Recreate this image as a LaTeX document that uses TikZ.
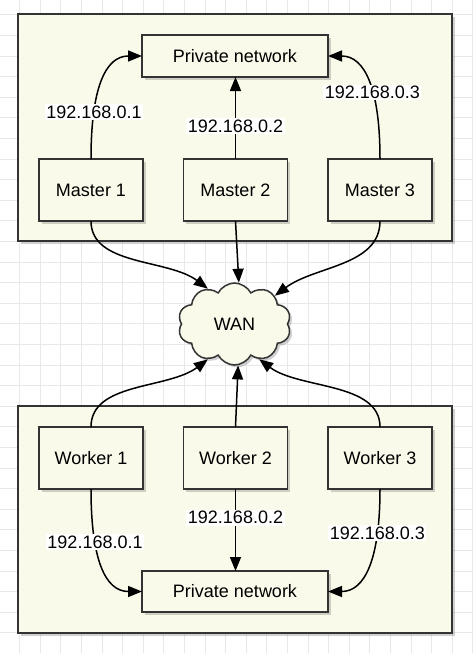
\documentclass[tikz,border=0pt]{standalone}
\usepackage{fontspec}
\setmainfont{Liberation Sans}
\usetikzlibrary{arrows.meta,shapes.symbols,shadows}
\definecolor{cream}{HTML}{FAFAEB}
\definecolor{edgec}{HTML}{333333}
\definecolor{gridc}{HTML}{E8E8E8}
\begin{document}
\begin{tikzpicture}[x=1pt,y=-1pt,
  txt/.style={font=\fontsize{18}{21}\selectfont},
  shad/.style={drop shadow={shadow xshift=2.5pt, shadow yshift=-2.5pt, opacity=0.3, fill=black!60}},
  group/.style={draw=edgec, line width=1.6pt, fill=cream, shad, inner sep=0pt, outer sep=0pt},
  box/.style={draw=edgec, line width=1.5pt, fill=cream, shad, txt, inner sep=0pt, outer sep=0pt},
  lbl/.style={fill=white, txt, inner sep=1.5pt},
  conn/.style={draw=black, line width=1.5pt, -{Triangle[length=14pt,width=11pt]}},
]
\useasboundingbox (0,0) rectangle (473,653);
\fill[white] (0,0) rectangle (473,653);
\foreach \i in {0,...,23} \draw[gridc, line width=0.8pt] (-1+\i*20.6,0) -- (-1+\i*20.6,653);
\foreach \j in {0,...,32} \draw[gridc, line width=0.8pt] (0,-5.8+\j*20.6) -- (473,-5.8+\j*20.6);

% groups
\node[group, minimum width=434pt, minimum height=227pt] (topgrp) at (235,127.5) {};
\node[group, minimum width=434pt, minimum height=227pt] (botgrp) at (235,519.5) {};

% top
\node[box, minimum width=186pt, minimum height=42pt] (pnt) at (235,56) {Private network};
\node[box, minimum width=104pt, minimum height=62pt] (m1) at (91,190) {Master 1};
\node[box, minimum width=104pt, minimum height=62pt] (m2) at (235.5,190) {Master 2};
\node[box, minimum width=104pt, minimum height=62pt] (m3) at (380,190) {Master 3};

% bottom
\node[box, minimum width=104pt, minimum height=62pt] (w1) at (91,458) {Worker 1};
\node[box, minimum width=104pt, minimum height=62pt] (w2) at (235.5,458) {Worker 2};
\node[box, minimum width=104pt, minimum height=62pt] (w3) at (380,458) {Worker 3};
\node[box, minimum width=186pt, minimum height=41pt] (pnb) at (235,591.5) {Private network};

% cloud
\node[cloud, cloud puffs=10, cloud puff arc=125, draw=edgec, line width=1.5pt, fill=cream, shad, txt,
      minimum width=113pt, minimum height=82pt, inner sep=0pt] (wan) at (234.5,324) {WAN};

% top private network links
\draw[conn] (m1.north) .. controls +(0,-70) and +(-37,0) .. (pnt.west)
  node[lbl, pos=0.26] {192.168.0.1};
\draw[conn] (m2.north) -- (m2.north |- pnt.south)
  node[lbl, pos=0.40] {192.168.0.2};
\draw[conn] (m3.north) .. controls +(0,-70) and +(37,0) .. (pnt.east)
  node[lbl, pos=0.40] {192.168.0.3};

% masters to WAN
\draw[conn] (m1.south) .. controls +(0,45) and +(-40,-30) .. (wan.127);
\draw[conn] (m2.south) -- (wan.84);
\draw[conn] (m3.south) .. controls +(0,45) and +(40,-30) .. (wan.35);

% workers to WAN
\draw[conn] (w1.north) .. controls +(0,-45) and +(-40,30) .. (wan.233);
\draw[conn] (w2.north) -- (wan.275);
\draw[conn] (w3.north) .. controls +(0,-45) and +(40,30) .. (wan.305);

% bottom private network links
\draw[conn] (w1.south) .. controls +(0,70) and +(-37,0) .. (pnb.west)
  node[lbl, pos=0.30] {192.168.0.1};
\draw[conn] (w2.south) -- (w2.south |- pnb.north)
  node[lbl, pos=0.35] {192.168.0.2};
\draw[conn] (w3.south) .. controls +(0,70) and +(37,0) .. (pnb.east)
  node[lbl, pos=0.24] {192.168.0.3};
\end{tikzpicture}
\end{document}
